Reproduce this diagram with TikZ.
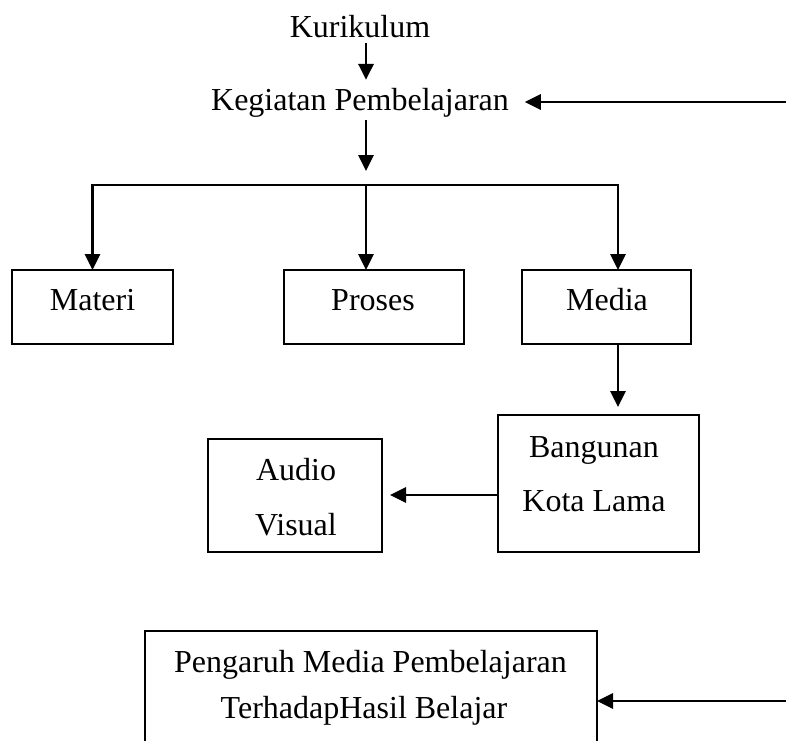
\documentclass[tikz,border=0pt]{standalone}
\usepackage{fontspec}
\setmainfont{Liberation Serif}
\usetikzlibrary{arrows.meta}
\begin{document}
\begin{tikzpicture}[x=0.75pt,y=-0.75pt,
  txt/.style={inner sep=0pt,outer sep=0pt,anchor=base,font=\fontsize{24}{28}\selectfont},
  boxn/.style={draw,line width=1.1pt,inner sep=0pt,outer sep=0pt,rectangle},
  arr/.style={line width=1.7pt,-{Triangle[length=12pt,width=11.5pt]}}]
\useasboundingbox (0,0) rectangle (786,740);
\clip (0,0) rectangle (786,740);
% helper coordinates
\coordinate (xa) at (366,0);
\coordinate (hub) at (366,185);
\coordinate (xm) at (618,0);
\coordinate (ya) at (0,495);
\coordinate (r1) at (786,102);
\coordinate (r2) at (786,701);
% text nodes
\node[txt] (kur) at (360,37) {Kurikulum};
\node[txt] (keg) at (360,110) {Kegiatan Pembelajaran};
% boxes
\node[boxn,minimum width=120.75pt,minimum height=55.5pt] (mat) at (92.5,307) {};
\node[boxn,minimum width=135pt,minimum height=55.5pt] (pro) at (374,307) {};
\node[boxn,minimum width=126.75pt,minimum height=55.5pt] (med) at (606.5,307) {};
\node[boxn,minimum width=150.75pt,minimum height=102.75pt] (ban) at (598.5,483.5) {};
\node[boxn,minimum width=130.5pt,minimum height=84.75pt] (aud) at (295,495.5) {};
\node[boxn,minimum width=339pt,minimum height=105pt] (res) at (371,701) {};
% box texts
\node[txt] (tmat) at (92.5,310) {Materi};
\node[txt] (tpro) at (373,310) {Proses};
\node[txt] (tmed) at (607,310) {Media};
\node[txt] (tban1) at (594,457) {Bangunan};
\node[txt] (tban2) at (594,511) {Kota Lama};
\node[txt] (taud1) at (296,480) {Audio};
\node[txt] (taud2) at (296,535) {Visual};
\node[txt] (tres1) at (370.5,672) {Pengaruh Media Pembelajaran};
\node[txt] (tres2) at (364,718) {TerhadapHasil Belajar};
% connectors
\draw[arr] ([yshift=-4.5pt]kur.south -| xa) -- ([yshift=6pt]keg.north -| xa);
\draw[arr] (r1) -- ([xshift=12pt]keg.east |- r1);
\draw[arr] ([yshift=-2.25pt]keg.south -| xa) -- ([yshift=10.5pt]hub);
\draw[arr] (hub) -| (mat.north);
\draw[arr] (hub) -- (hub |- pro.north);
\draw[arr] (hub) -| (xm |- med.north);
\draw[arr] (xm |- med.south) -- ([yshift=6pt]xm |- ban.north);
\draw[arr] (ban.west |- ya) -- ([xshift=6pt]aud.east |- ya);
\draw[arr] (r2) -- (res.east);
\end{tikzpicture}
\end{document}
